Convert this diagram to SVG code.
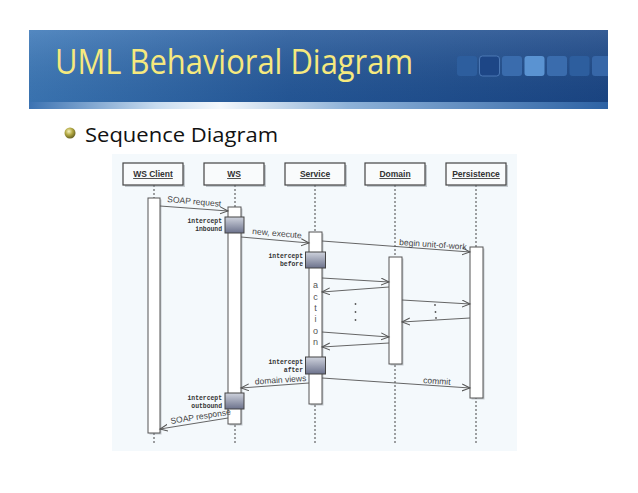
<svg xmlns="http://www.w3.org/2000/svg" width="638" height="493" viewBox="0 0 638 493">
<defs>
<linearGradient id="band" x1="0" x2="1" y1="0" y2="0">
<stop offset="0" stop-color="#3c78b8"/>
<stop offset="0.45" stop-color="#25599b"/>
<stop offset="1" stop-color="#1b4787"/>
</linearGradient>
<linearGradient id="bandV" x1="0" x2="0" y1="0" y2="1">
<stop offset="0" stop-color="#ffffff" stop-opacity="0.12"/>
<stop offset="1" stop-color="#000000" stop-opacity="0.05"/>
</linearGradient>
<linearGradient id="strip" x1="0" x2="1" y1="0" y2="0">
<stop offset="0" stop-color="#3b72b2"/>
<stop offset="0.22" stop-color="#c8dcef"/>
<stop offset="0.33" stop-color="#f4f8fc"/>
<stop offset="0.55" stop-color="#8eb2d8"/>
<stop offset="1" stop-color="#2d62a4"/>
</linearGradient>
<radialGradient id="bullet" cx="0.4" cy="0.35" r="0.65">
<stop offset="0" stop-color="#f6f2c0"/>
<stop offset="0.5" stop-color="#b4aa44"/>
<stop offset="1" stop-color="#6a6422"/>
</radialGradient>
<linearGradient id="icpt" x1="0" x2="0" y1="0" y2="1">
<stop offset="0" stop-color="#cfd3dd"/>
<stop offset="1" stop-color="#6c728c"/>
</linearGradient>
<marker id="arr" markerWidth="10" markerHeight="9" refX="8" refY="4" orient="auto" markerUnits="userSpaceOnUse">
<path d="M0,0.5 L8,4 L0,7.5" fill="none" stroke="#555" stroke-width="1"/>
</marker>
</defs>
<style>
.hbox{fill:#f9fbfc;stroke:#444;stroke-width:1.2}
.shd{fill:#8a9098;opacity:0.45}
.hd{font-family:"Liberation Sans",Arial,sans-serif;font-weight:bold;font-size:8.5px;fill:#333;text-anchor:middle;text-decoration:underline}
.life{stroke:#555;stroke-width:1.1;stroke-dasharray:2,2}
.bar{fill:#ffffff;stroke:#555;stroke-width:1}
.ic{fill:url(#icpt);stroke:#444;stroke-width:1}
.ict{font-family:"Liberation Mono","DejaVu Sans Mono",monospace;font-weight:bold;font-size:6.4px;fill:#333;text-anchor:end}
.msg{stroke:#555;stroke-width:0.9;fill:none;marker-end:url(#arr)}
.lbl{font-family:"Liberation Sans",Arial,sans-serif;font-size:8.5px;fill:#444}
.act{font-family:"Liberation Sans",Arial,sans-serif;font-size:9px;fill:#555;text-anchor:middle}
.dot{fill:#555}
.sq{rx:3}
</style>
<rect width="638" height="493" fill="#ffffff"/>
<g id="header">
<rect x="29" y="30" width="579" height="79" fill="url(#band)"/>
<rect x="29" y="30" width="579" height="72" fill="url(#bandV)"/>
<rect x="29" y="102" width="579" height="7" fill="url(#strip)"/>
<rect class="sq" x="457" y="56" width="20" height="20" fill="#2d5e9e"/>
<rect class="sq" x="479.5" y="56" width="20" height="20" fill="#1d4686" stroke="#5583bf" stroke-width="0.8"/>
<rect class="sq" x="502" y="56" width="20" height="20" fill="#3a6cad"/>
<rect class="sq" x="524.5" y="56" width="20" height="20" fill="#5a93d2"/>
<rect class="sq" x="547" y="56" width="20" height="20" fill="#3a6cad"/>
<rect class="sq" x="569.5" y="56" width="20" height="20" fill="#2d5e9e"/>
<path d="M595,56 H608 V76 H595 Q592,76 592,73 V59 Q592,56 595,56 Z" fill="#3767a8"/>
<text x="55" y="74" font-family="Open Sans,Lato,sans-serif" font-size="34" fill="#f6e97e" textLength="358" lengthAdjust="spacingAndGlyphs">UML Behavioral Diagram</text>
</g>
<g id="subtitle">
<circle cx="70" cy="133" r="5.5" fill="url(#bullet)"/>
<text x="85" y="142" font-family="Open Sans,Lato,sans-serif" font-size="20" fill="#111" textLength="193" lengthAdjust="spacingAndGlyphs">Sequence Diagram</text>
</g>
<rect x="112" y="154" width="405" height="297" fill="#f4f9fc"/>
<g id="lifelines">
<line class="life" x1="154" y1="185" x2="154" y2="445"/>
<line class="life" x1="235" y1="185" x2="235" y2="445"/>
<line class="life" x1="315" y1="185" x2="315" y2="445"/>
<line class="life" x1="395" y1="185" x2="395" y2="445"/>
<line class="life" x1="476" y1="185" x2="476" y2="445"/>
</g>
<g id="ws-client">
<rect class="shd" x="125" y="165" width="60" height="22"/>
<rect class="hbox" x="123" y="163" width="60" height="22"/>
<text class="hd" x="153" y="177">WS Client</text>
<rect class="shd" x="149.5" y="199.5" width="12" height="235"/>
<rect class="bar" x="148" y="198" width="12" height="235"/>
</g>
<g id="ws">
<rect class="shd" x="206" y="165" width="60" height="22"/>
<rect class="hbox" x="204" y="163" width="60" height="22"/>
<text class="hd" x="234" y="177">WS</text>
<rect class="shd" x="229.5" y="208.5" width="13" height="217"/>
<rect class="bar" x="228" y="207" width="13" height="217"/>
<rect class="ic" x="225" y="217" width="19" height="16"/>
<rect class="ic" x="225" y="393" width="19" height="16"/>
<text class="ict" x="222" y="223">intercept</text>
<text class="ict" x="222" y="231">inbound</text>
<text class="ict" x="222" y="400">intercept</text>
<text class="ict" x="222" y="408">outbound</text>
</g>
<g id="service">
<rect class="shd" x="287" y="165" width="60" height="22"/>
<rect class="hbox" x="285" y="163" width="60" height="22"/>
<text class="hd" x="315" y="177">Service</text>
<rect class="shd" x="310.5" y="233.5" width="13" height="172"/>
<rect class="bar" x="309" y="232" width="13" height="172"/>
<rect class="ic" x="305.5" y="252" width="20" height="16"/>
<rect class="ic" x="305.5" y="357" width="20" height="17"/>
<text class="ict" x="303" y="258">intercept</text>
<text class="ict" x="303" y="266">before</text>
<text class="ict" x="303" y="364">intercept</text>
<text class="ict" x="303" y="372">after</text>
<text class="act" x="315.5" y="288">a</text>
<text class="act" x="315.5" y="300">c</text>
<text class="act" x="315.5" y="311">t</text>
<text class="act" x="315.5" y="322">i</text>
<text class="act" x="315.5" y="334">o</text>
<text class="act" x="315.5" y="345">n</text>
</g>
<g id="domain">
<rect class="shd" x="367" y="165" width="60" height="22"/>
<rect class="hbox" x="365" y="163" width="60" height="22"/>
<text class="hd" x="395" y="177">Domain</text>
<rect class="shd" x="390.5" y="258.5" width="13" height="107"/>
<rect class="bar" x="389" y="257" width="13" height="107"/>
</g>
<g id="persistence">
<rect class="shd" x="448" y="165" width="60" height="22"/>
<rect class="hbox" x="446" y="163" width="60" height="22"/>
<text class="hd" x="476" y="177">Persistence</text>
<rect class="shd" x="471.5" y="248.5" width="13" height="151"/>
<rect class="bar" x="470" y="247" width="13" height="151"/>
</g>
<g id="connectors">
<line class="msg" x1="160" y1="206" x2="228" y2="211"/>
<text class="lbl" x="167" y="202" transform="rotate(5 167 202)">SOAP request</text>
<line class="msg" x1="241" y1="237" x2="309" y2="243"/>
<text class="lbl" x="252" y="234" transform="rotate(5 252 234)">new, execute</text>
<line class="msg" x1="322" y1="241" x2="470" y2="252"/>
<text class="lbl" x="399" y="245" transform="rotate(4 399 245)">begin unit-of-work</text>
<line class="msg" x1="322" y1="278" x2="389" y2="282"/>
<line class="msg" x1="389" y1="287" x2="322" y2="292"/>
<line class="msg" x1="322" y1="332" x2="389" y2="337"/>
<line class="msg" x1="389" y1="343" x2="322" y2="347"/>
<line class="msg" x1="402" y1="300" x2="470" y2="304"/>
<line class="msg" x1="470" y1="318" x2="402" y2="322"/>
<circle class="dot" cx="355.5" cy="304" r="0.9"/>
<circle class="dot" cx="355.5" cy="312" r="0.9"/>
<circle class="dot" cx="355.5" cy="320" r="0.9"/>
<circle class="dot" cx="435" cy="305" r="0.9"/>
<circle class="dot" cx="435.5" cy="312" r="0.9"/>
<circle class="dot" cx="436" cy="318" r="0.9"/>
<line class="msg" x1="322" y1="378" x2="470" y2="388"/>
<text class="lbl" x="423" y="383" transform="rotate(4 423 383)">commit</text>
<line class="msg" x1="309" y1="383" x2="241" y2="388"/>
<text class="lbl" x="255" y="384.5" transform="rotate(-4 255 384.5)">domain views</text>
<line class="msg" x1="228" y1="418" x2="160" y2="429"/>
<text class="lbl" x="171" y="424" transform="rotate(-9 171 424)">SOAP response</text>
</g>
</svg>
